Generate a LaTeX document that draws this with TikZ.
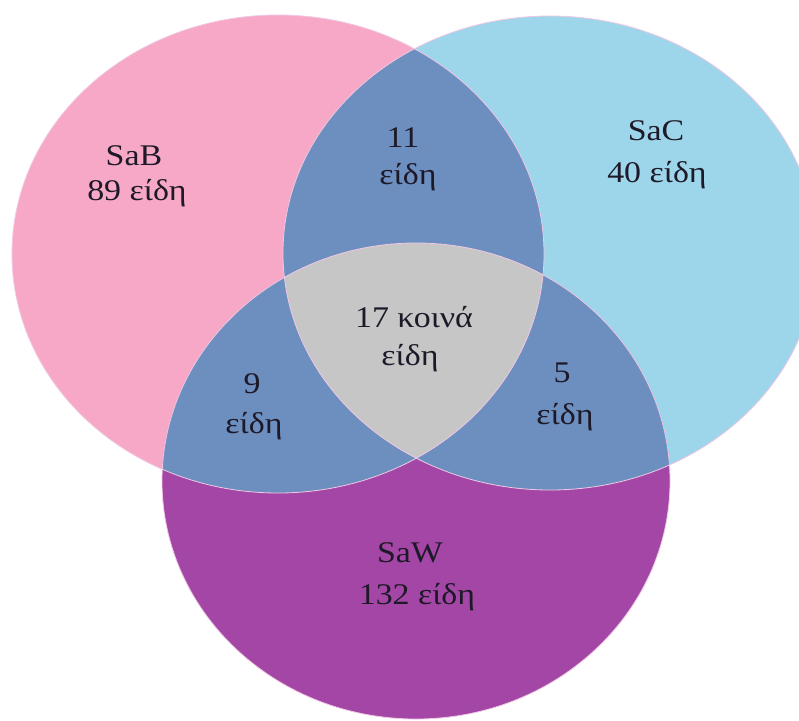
\documentclass[tikz,border=0pt]{standalone}
\usepackage{fontspec}
\setmainfont{Liberation Serif}
\definecolor{cpink}{RGB}{247,168,198}
\definecolor{cblue}{RGB}{157,214,234}
\definecolor{cpurple}{RGB}{163,70,165}
\definecolor{cslate}{RGB}{108,143,192}
\definecolor{cgray}{RGB}{198,198,198}
\definecolor{cedge}{RGB}{240,200,228}
\definecolor{ctext}{RGB}{30,25,40}
\newcommand\hs[1]{\scalebox{1.13}[1]{#1}}
\begin{document}
\begin{tikzpicture}[x=1pt,y=-1pt,
  lbl/.style={anchor=base,inner sep=0pt,text=ctext,font=\fontsize{30}{36}\selectfont},
  edge/.style={draw=cedge,line width=0.8pt}]
\useasboundingbox (0,0) rectangle (799,720);
\fill[white] (0,0) rectangle (799,720);
\coordinate (cB) at (278,254);
\coordinate (cC) at (550,253);
\coordinate (cW) at (416,481);
\def\ellB{(cB) ellipse [x radius=266pt, y radius=239pt]}
\def\ellC{(cC) ellipse [x radius=267pt, y radius=237pt]}
\def\ellW{(cW) ellipse [x radius=254pt, y radius=238pt]}
% single sets
\fill[cpink] \ellB;
\fill[cblue] \ellC;
\fill[cpurple] \ellW;
% pairwise
\begin{scope}\clip \ellB; \fill[cslate] \ellC; \fill[cslate] \ellW; \end{scope}
\begin{scope}\clip \ellC; \fill[cslate] \ellW; \end{scope}
% triple
\begin{scope}\clip \ellB; \clip \ellC; \fill[cgray] \ellW; \end{scope}
% outlines
\draw[edge] \ellB;
\draw[edge] \ellC;
\draw[edge] \ellW;
% labels
\node[lbl] (b1) at (134,165) {\hs{SaB}};
\node[lbl] (b2) at (137,200) {\hs{89 είδη}};
\node[lbl] (bc1) at (403,147) {\hs{11}};
\node[lbl] (bc2) at (408,184) {\hs{είδη}};
\node[lbl] (c1) at (656,140) {\hs{SaC}};
\node[lbl] (c2) at (657,182) {\hs{40 είδη}};
\node[lbl] (t1) at (414,327) {\hs{17 κοινά}};
\node[lbl] (t2) at (410,365) {\hs{είδη}};
\node[lbl] (bw1) at (252,393) {\hs{9}};
\node[lbl] (bw2) at (254,433) {\hs{είδη}};
\node[lbl] (cw1) at (562,382) {\hs{5}};
\node[lbl] (cw2) at (565,424) {\hs{είδη}};
\node[lbl] (w1) at (410,562) {\hs{SaW}};
\node[lbl] (w2) at (417,604) {\hs{132 είδη}};
\end{tikzpicture}
\end{document}
